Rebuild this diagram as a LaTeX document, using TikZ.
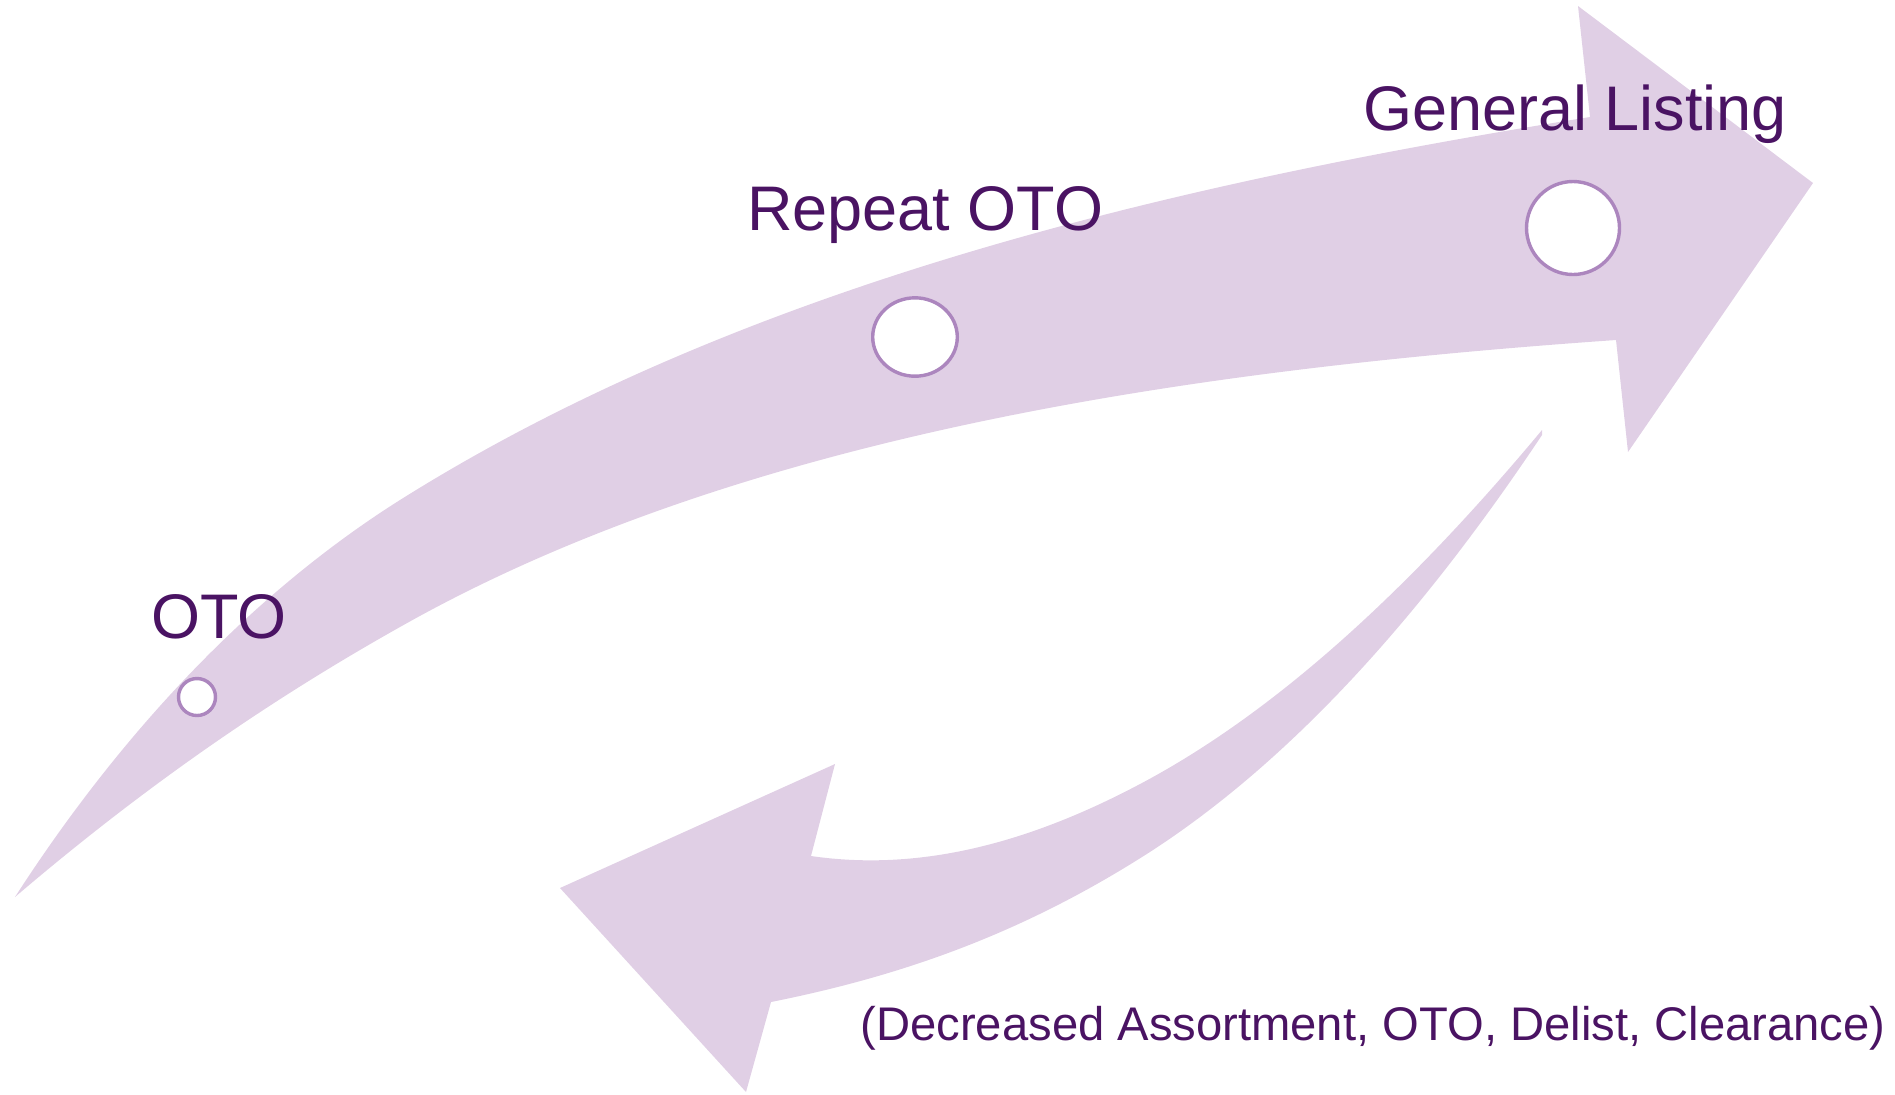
\documentclass[tikz,border=0pt]{standalone}
\usepackage{fontspec}
\setmainfont{Liberation Sans}
\usetikzlibrary{shapes.geometric}

\definecolor{bandc}{HTML}{E0CFE5}
\definecolor{ringc}{HTML}{AC86BE}
\definecolor{textc}{HTML}{4A1363}

\begin{document}
\begin{tikzpicture}[x=0.5pt,y=-0.5pt,
    band/.style={fill=bandc},
    ring/.style={circle,draw=ringc,line width=1.7pt,fill=white,inner sep=0pt},
    lbl/.style={text=textc,inner sep=0pt,font=\fontsize{31.5}{38}\selectfont},
    note/.style={text=textc,inner sep=0pt,font=\fontsize{23.6}{28}\selectfont}]
  \useasboundingbox (0,0) rectangle (1895,1094);

  % big arrow
  \fill[band] (15,897) .. controls (135,711) and (270,582) .. (400,500)
    .. controls (750,280) and (1190,181) .. (1590,117)
    -- (1578,6) -- (1813,183) -- (1628,452) -- (1616,340)
    .. controls (1216,368) and (750,429) .. (400,627)
    .. controls (270,700) and (145,786) .. (15,897) -- cycle;

  % return arrow
  \fill[band] (1542,430) .. controls (1412,586) and (1283,705) .. (1153,777)
    .. controls (1033,843) and (921,872) .. (811,856)
    -- (835,764) -- (560,888) -- (746,1092) -- (771,1002)
    .. controls (901,976) and (1023,934) .. (1153,850)
    .. controls (1283,765) and (1412,630) .. (1542,435) -- cycle;

  \node[ring,minimum size=18.5pt] (oto) at (197,697) {};
  \node[ring,ellipse,minimum width=42.3pt,minimum height=39.2pt] (repeat) at (915,337) {};
  \node[ring,minimum size=46.5pt] (general) at (1573,228) {};

  \node[lbl,anchor=base] (otolbl) at (219,638) {OTO};
  \node[lbl,anchor=base] (repeatlbl) at (925,230) {Repeat OTO};
  \node[lbl,anchor=base] (generallbl) at (1575,130) {General Listing};
  \node[note,anchor=base] (notelbl) at (1373,1040) {(Decreased Assortment, OTO, Delist, Clearance)};
\end{tikzpicture}
\end{document}
